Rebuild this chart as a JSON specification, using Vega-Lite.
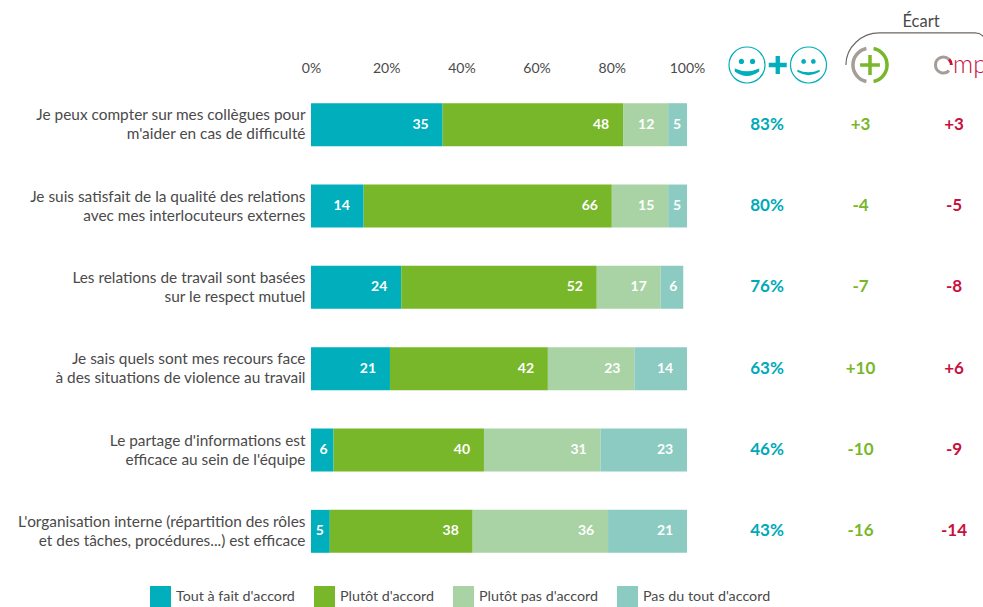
{"$schema":"https://vega.github.io/schema/vega-lite/v6.json","autosize":"none","width":672,"height":488,"padding":{"left":311,"top":84,"right":0,"bottom":35},"background":"white","config":{"font":"Lato","view":{"stroke":null}},"datasets":{"reponses":[
{"question":"Je peux compter sur mes collègues pour\nm'aider en cas de difficulté","reponse":"Tout à fait d'accord","rang":1,"valeur":35},
{"question":"Je peux compter sur mes collègues pour\nm'aider en cas de difficulté","reponse":"Plutôt d'accord","rang":2,"valeur":48},
{"question":"Je peux compter sur mes collègues pour\nm'aider en cas de difficulté","reponse":"Plutôt pas d'accord","rang":3,"valeur":12},
{"question":"Je peux compter sur mes collègues pour\nm'aider en cas de difficulté","reponse":"Pas du tout d'accord","rang":4,"valeur":5},
{"question":"Je suis satisfait de la qualité des relations\navec mes interlocuteurs externes","reponse":"Tout à fait d'accord","rang":1,"valeur":14},
{"question":"Je suis satisfait de la qualité des relations\navec mes interlocuteurs externes","reponse":"Plutôt d'accord","rang":2,"valeur":66},
{"question":"Je suis satisfait de la qualité des relations\navec mes interlocuteurs externes","reponse":"Plutôt pas d'accord","rang":3,"valeur":15},
{"question":"Je suis satisfait de la qualité des relations\navec mes interlocuteurs externes","reponse":"Pas du tout d'accord","rang":4,"valeur":5},
{"question":"Les relations de travail sont basées\nsur le respect mutuel","reponse":"Tout à fait d'accord","rang":1,"valeur":24},
{"question":"Les relations de travail sont basées\nsur le respect mutuel","reponse":"Plutôt d'accord","rang":2,"valeur":52},
{"question":"Les relations de travail sont basées\nsur le respect mutuel","reponse":"Plutôt pas d'accord","rang":3,"valeur":17},
{"question":"Les relations de travail sont basées\nsur le respect mutuel","reponse":"Pas du tout d'accord","rang":4,"valeur":6},
{"question":"Je sais quels sont mes recours face\nà des situations de violence au travail","reponse":"Tout à fait d'accord","rang":1,"valeur":21},
{"question":"Je sais quels sont mes recours face\nà des situations de violence au travail","reponse":"Plutôt d'accord","rang":2,"valeur":42},
{"question":"Je sais quels sont mes recours face\nà des situations de violence au travail","reponse":"Plutôt pas d'accord","rang":3,"valeur":23},
{"question":"Je sais quels sont mes recours face\nà des situations de violence au travail","reponse":"Pas du tout d'accord","rang":4,"valeur":14},
{"question":"Le partage d'informations est\nefficace au sein de l'équipe","reponse":"Tout à fait d'accord","rang":1,"valeur":6},
{"question":"Le partage d'informations est\nefficace au sein de l'équipe","reponse":"Plutôt d'accord","rang":2,"valeur":40},
{"question":"Le partage d'informations est\nefficace au sein de l'équipe","reponse":"Plutôt pas d'accord","rang":3,"valeur":31},
{"question":"Le partage d'informations est\nefficace au sein de l'équipe","reponse":"Pas du tout d'accord","rang":4,"valeur":23},
{"question":"L'organisation interne (répartition des rôles\net des tâches, procédures...) est efficace","reponse":"Tout à fait d'accord","rang":1,"valeur":5},
{"question":"L'organisation interne (répartition des rôles\net des tâches, procédures...) est efficace","reponse":"Plutôt d'accord","rang":2,"valeur":38},
{"question":"L'organisation interne (répartition des rôles\net des tâches, procédures...) est efficace","reponse":"Plutôt pas d'accord","rang":3,"valeur":36},
{"question":"L'organisation interne (répartition des rôles\net des tâches, procédures...) est efficace","reponse":"Pas du tout d'accord","rang":4,"valeur":21}
],"indicateurs":[
{"question":"Je peux compter sur mes collègues pour\nm'aider en cas de difficulté","colonne":"total","texte":"83%"},
{"question":"Je peux compter sur mes collègues pour\nm'aider en cas de difficulté","colonne":"ecart","texte":"+3"},
{"question":"Je peux compter sur mes collègues pour\nm'aider en cas de difficulté","colonne":"omp","texte":"+3"},
{"question":"Je suis satisfait de la qualité des relations\navec mes interlocuteurs externes","colonne":"total","texte":"80%"},
{"question":"Je suis satisfait de la qualité des relations\navec mes interlocuteurs externes","colonne":"ecart","texte":"-4"},
{"question":"Je suis satisfait de la qualité des relations\navec mes interlocuteurs externes","colonne":"omp","texte":"-5"},
{"question":"Les relations de travail sont basées\nsur le respect mutuel","colonne":"total","texte":"76%"},
{"question":"Les relations de travail sont basées\nsur le respect mutuel","colonne":"ecart","texte":"-7"},
{"question":"Les relations de travail sont basées\nsur le respect mutuel","colonne":"omp","texte":"-8"},
{"question":"Je sais quels sont mes recours face\nà des situations de violence au travail","colonne":"total","texte":"63%"},
{"question":"Je sais quels sont mes recours face\nà des situations de violence au travail","colonne":"ecart","texte":"+10"},
{"question":"Je sais quels sont mes recours face\nà des situations de violence au travail","colonne":"omp","texte":"+6"},
{"question":"Le partage d'informations est\nefficace au sein de l'équipe","colonne":"total","texte":"46%"},
{"question":"Le partage d'informations est\nefficace au sein de l'équipe","colonne":"ecart","texte":"-10"},
{"question":"Le partage d'informations est\nefficace au sein de l'équipe","colonne":"omp","texte":"-9"},
{"question":"L'organisation interne (répartition des rôles\net des tâches, procédures...) est efficace","colonne":"total","texte":"43%"},
{"question":"L'organisation interne (répartition des rôles\net des tâches, procédures...) est efficace","colonne":"ecart","texte":"-16"},
{"question":"L'organisation interne (répartition des rôles\net des tâches, procédures...) est efficace","colonne":"omp","texte":"-14"}
],"entete":[
{"partie":"anneau","position":"sourire1"},{"partie":"visage1","position":"sourire1"},{"partie":"plus","position":"plus"},{"partie":"anneau","position":"sourire2"},{"partie":"visage2","position":"sourire2"},
{"partie":"accolade","position":"logo"},{"partie":"arcGris","position":"logo"},{"partie":"arcVert","position":"logo"},{"partie":"croix","position":"logo"},{"partie":"oGris","position":"logo"},{"partie":"oRouge","position":"logo"}
],"textes":[{"texte":"Écart","position":"ecart","ligne":"titre"}],"marque":[{"texte":"mp","position":"mp","ligne":"icones"}]},
"data":{"name":"reponses"},
"transform":[{"stack":"valeur","groupby":["question"],"sort":[{"field":"rang","order":"ascending"}],"as":["debut","fin"]}],
"resolve":{"scale":{"x":"independent","y":"independent","color":"independent"},"axis":{"x":"independent","y":"independent"}},
"layer":[
{"mark":{"type":"bar"},"encoding":{
"x":{"field":"debut","type":"quantitative","scale":{"domain":[0,178.72],"nice":false,"zero":false},"axis":{"orient":"top","values":[0,20,40,60,80,100],"labelExpr":"datum.value+'%'","grid":false,"domain":false,"ticks":false,"labelPadding":9,"labelFontSize":14,"labelColor":"#4a4a4a","labelFlush":false,"labelOverlap":false,"title":null}},
"x2":{"field":"fin"},
"y":{"field":"question","type":"nominal","sort":null,"scale":{"type":"band","paddingInner":0.472,"paddingOuter":0.236},"axis":{"labelExpr":"split(datum.value,'\\n')","title":null,"domain":false,"ticks":false,"labelPadding":6,"labelFontSize":15.4,"labelColor":"#4a4a4a","labelLimit":320,"labelLineHeight":19,"labelAlign":"right","labelOffset":-9.5}},
"color":{"field":"reponse","type":"nominal","scale":{"domain":["Tout à fait d'accord","Plutôt d'accord","Plutôt pas d'accord","Pas du tout d'accord"],"range":["#00aebc","#78b72a","#a9d3a4","#8bcbc1"]},"legend":{"orient":"none","legendX":-161,"legendY":502,"direction":"horizontal","title":null,"symbolType":"square","symbolSize":441,"symbolStrokeWidth":0,"labelFontSize":14.3,"labelColor":"#4a4a4a","labelOffset":5,"columnPadding":19,"gridAlign":"none","labelLimit":200,"symbolOpacity":1}}}},
{"transform":[{"filter":"datum.valeur>=10"}],"mark":{"type":"text","align":"center","dx":-22,"color":"white","fontWeight":"bold","fontSize":14},"encoding":{
"x":{"field":"fin","type":"quantitative","scale":{"domain":[0,178.72],"nice":false,"zero":false},"axis":null,"stack":null},
"y":{"field":"question","type":"nominal","sort":null,"scale":{"type":"band","paddingInner":0.472,"paddingOuter":0.236,"domain":["Je peux compter sur mes collègues pour\nm'aider en cas de difficulté","Je suis satisfait de la qualité des relations\navec mes interlocuteurs externes","Les relations de travail sont basées\nsur le respect mutuel","Je sais quels sont mes recours face\nà des situations de violence au travail","Le partage d'informations est\nefficace au sein de l'équipe","L'organisation interne (répartition des rôles\net des tâches, procédures...) est efficace"]},"axis":null},
"text":{"field":"valeur","type":"quantitative"}}},
{"transform":[{"filter":"datum.valeur<10"}],"mark":{"type":"text","align":"center","dx":-10,"color":"white","fontWeight":"bold","fontSize":14},"encoding":{
"x":{"field":"fin","type":"quantitative","scale":{"domain":[0,178.72],"nice":false,"zero":false},"axis":null,"stack":null},
"y":{"field":"question","type":"nominal","sort":null,"scale":{"type":"band","paddingInner":0.472,"paddingOuter":0.236,"domain":["Je peux compter sur mes collègues pour\nm'aider en cas de difficulté","Je suis satisfait de la qualité des relations\navec mes interlocuteurs externes","Les relations de travail sont basées\nsur le respect mutuel","Je sais quels sont mes recours face\nà des situations de violence au travail","Le partage d'informations est\nefficace au sein de l'équipe","L'organisation interne (répartition des rôles\net des tâches, procédures...) est efficace"]},"axis":null},
"text":{"field":"valeur","type":"quantitative"}}},
{"data":{"name":"indicateurs"},"mark":{"type":"text","align":"center","fontWeight":"bold","fontSize":17},"encoding":{
"x":{"field":"colonne","type":"nominal","scale":{"type":"point","domain":["total","ecart","omp"],"range":[456,643],"padding":0},"axis":null},
"y":{"field":"question","type":"nominal","sort":null,"scale":{"type":"band","paddingInner":0.472,"paddingOuter":0.236},"axis":null},
"color":{"field":"colonne","type":"nominal","scale":{"domain":["total","ecart","omp"],"range":["#00a9b8","#78b72a","#c8103f"]},"legend":null},
"text":{"field":"texte","type":"nominal"}}},
{"data":{"name":"entete"},"mark":{"type":"point","size":1296,"opacity":1},"encoding":{
"x":{"field":"position","type":"nominal","scale":{"type":"point","domain":["sourire1","plus","sourire2","vide","logo"],"range":[436,559],"padding":0},"axis":null},
"y":{"datum":"icones","type":"nominal","scale":{"type":"point","domain":["titre","icones"],"range":[-62,-19],"padding":0},"axis":null},
"shape":{"field":"partie","type":"nominal","scale":{"domain":["anneau","visage1","visage2","plus","accolade","arcGris","arcVert","croix","oGris","oRouge"],"range":[
"M-1 0A1 1 0 1 1 1 0A1 1 0 1 1 -1 0Z",
"M-0.46 -0.2A0.15 0.15 0 1 1 -0.16 -0.2A0.15 0.15 0 1 1 -0.46 -0.2ZM0.16 -0.2A0.15 0.15 0 1 1 0.46 -0.2A0.15 0.15 0 1 1 0.16 -0.2ZM-0.68 0.2Q0 0.5 0.68 0.2L0.68 0.36Q0 0.85 -0.68 0.36Z",
"M-0.4 -0.2A0.13 0.13 0 1 1 -0.14 -0.2A0.13 0.13 0 1 1 -0.4 -0.2ZM0.14 -0.2A0.13 0.13 0 1 1 0.4 -0.2A0.13 0.13 0 1 1 0.14 -0.2ZM-0.62 0.26Q0 0.55 0.62 0.26L0.62 0.38Q0 0.75 -0.62 0.38Z",
"M-0.12 -0.5H0.12V-0.12H0.5V0.12H0.12V0.5H-0.12V0.12H-0.5V-0.12H-0.12Z",
"M-1.34 0C-1.34 -1 -0.47 -1.78 0.53 -1.78L5.83 -1.78Q6.23 -1.78 6.43 -1.4",
"M-0.2 -0.92A0.94 0.94 0 0 0 -0.2 0.92",
"M0.2 -0.92A0.94 0.94 0 0 1 0.2 0.92",
"M-0.55 0H0.55M0 -0.55V0.55",
"M4.39 -0.31A0.44 0.44 0 1 0 4.39 0.31",
"M4.39 -0.31A0.44 0.44 0 0 1 4.52 0"]},"legend":null},
"fill":{"field":"partie","type":"nominal","scale":{"domain":["anneau","visage1","visage2","plus","accolade","arcGris","arcVert","croix","oGris","oRouge"],"range":["transparent","#00aebc","#00aebc","#00aebc","transparent","transparent","transparent","transparent","transparent","transparent"]},"legend":null},
"stroke":{"field":"partie","type":"nominal","scale":{"domain":["anneau","visage1","visage2","plus","accolade","arcGris","arcVert","croix","oGris","oRouge"],"range":["#00aebc","transparent","transparent","transparent","#6e6762","#a59d97","#78b72a","#78b72a","#a59d97","#c8103f"]},"legend":null},
"strokeWidth":{"field":"partie","type":"ordinal","scale":{"type":"ordinal","domain":["anneau","visage1","visage2","plus","accolade","arcGris","arcVert","croix","oGris","oRouge"],"range":[1.2,0,0,0,1.2,3.5,3.5,3.5,3,3]},"legend":null}}},
{"data":{"name":"textes"},"mark":{"type":"text","align":"center","baseline":"middle","fontSize":16.5,"color":"#4a4a4a"},"encoding":{
"x":{"field":"position","type":"nominal","scale":{"type":"point","domain":["ecart"],"range":[610,610],"padding":0},"axis":null},
"y":{"field":"ligne","type":"nominal","scale":{"type":"point","domain":["titre","icones"],"range":[-62,-19],"padding":0},"axis":null},
"text":{"field":"texte","type":"nominal"}}},
{"data":{"name":"marque"},"mark":{"type":"text","align":"left","baseline":"middle","fontSize":25,"fontWeight":300,"color":"#c8103f"},"encoding":{
"x":{"field":"position","type":"nominal","scale":{"type":"point","domain":["mp"],"range":[642,642],"padding":0},"axis":null},
"y":{"field":"ligne","type":"nominal","scale":{"type":"point","domain":["titre","icones"],"range":[-62,-19],"padding":0},"axis":null},
"text":{"field":"texte","type":"nominal"}}}
]}
